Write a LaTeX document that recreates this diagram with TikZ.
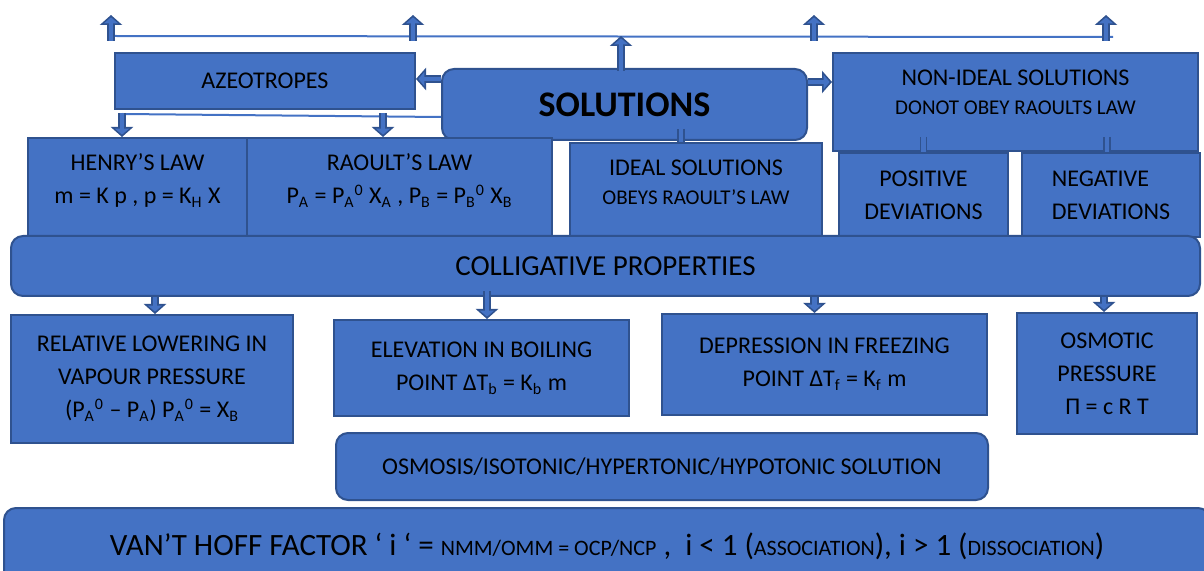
\documentclass[tikz,border=0pt]{standalone}
\usepackage{fontspec}
\setmainfont{Carlito}
\usetikzlibrary{arrows.meta,calc}
\definecolor{boxblue}{HTML}{4472C4}
\definecolor{edgeblue}{HTML}{2F528F}
\newcommand{\smallline}{\fontsize{10.5}{14}\selectfont}
\newcommand{\smallcap}{\fontsize{11}{13}\selectfont}
\begin{document}
\begin{tikzpicture}[
  x=0.5pt, y=-0.5pt,
  box/.style={rectangle, draw=edgeblue, line width=1pt, fill=boxblue, align=center, inner sep=2pt,
    font=\fontsize{12}{16.5}\selectfont},
  roundbox/.style={box, rounded corners=6pt},
  blockarrow/.style={draw=edgeblue, line width=4.2pt, -{Triangle[length=5pt,width=11pt]},
    postaction={draw=boxblue, line width=2.2pt, -{Triangle[length=3pt,width=7pt]}, shorten >=1.2pt}},
  stub/.style={draw=edgeblue, line width=0.8pt, double=boxblue, double distance=2.2pt},
  thinline/.style={draw=boxblue, line width=1pt}
]
\useasboundingbox (0,0) rectangle (1204,571);

% top row
\node[box, minimum width=150pt, minimum height=28pt] (azeo) at (265,81) {AZEOTROPES};
\node[roundbox, minimum width=182.5pt, minimum height=35.5pt,
  font=\fontsize{18}{20}\selectfont\bfseries] (sol) at (624.5,104.5) {SOLUTIONS};
\node[box, minimum width=182.5pt, minimum height=49pt, text depth=10pt] (nonideal) at (1015.5,102)
  {NON-IDEAL SOLUTIONS\\[-2pt]{\smallline DONOT OBEY RAOULTS LAW}};

% laws and deviations
\node[box, minimum width=109.5pt, minimum height=49.5pt, text depth=8.5pt] (henry) at (137.5,187.5)
  {HENRY’S LAW\\m = K p , p = K\textsubscript{H} X};
\node[box, minimum width=152.5pt, minimum height=49.5pt, text depth=8.5pt] (raoult) at (399.5,187.5)
  {RAOULT’S LAW\\P\textsubscript{A} = P\textsubscript{A}\textsuperscript{0} X\textsubscript{A} ,
   P\textsubscript{B} = P\textsubscript{B}\textsuperscript{0} X\textsubscript{B}};
\node[box, minimum width=126pt, minimum height=47pt, text depth=7.5pt] (ideal) at (696,190)
  {IDEAL SOLUTIONS\\[-2pt]{\smallline OBEYS RAOULT’S LAW}};
\node[box, minimum width=84.5pt, minimum height=42pt] (pos) at (923.5,195) {POSITIVE\\DEVIATIONS};
\node[box, minimum width=89pt, minimum height=42pt, align=left] (neg) at (1111,195) {NEGATIVE\\DEVIATIONS};

% colligative properties
\node[roundbox, minimum width=594.5pt, minimum height=30pt,
  font=\fontsize{14.5}{17}\selectfont] (coll) at (605.5,266) {COLLIGATIVE PROPERTIES};
\node[box, minimum width=141pt, minimum height=64pt] (rel) at (152,379)
  {RELATIVE LOWERING IN\\VAPOUR PRESSURE\\(P\textsubscript{A}\textsuperscript{0} – P\textsubscript{A})
   P\textsubscript{A}\textsuperscript{0} = X\textsubscript{B}};
\node[box, minimum width=147.5pt, minimum height=48pt] (elev) at (481.5,368)
  {ELEVATION IN BOILING\\POINT ΔT\textsubscript{b} = K\textsubscript{b} m};
\node[box, minimum width=162.5pt, minimum height=50.5pt] (dep) at (824.5,364.5)
  {DEPRESSION IN FREEZING\\POINT ΔT\textsubscript{f} = K\textsubscript{f} m};
\node[box, minimum width=90pt, minimum height=60.5pt] (osm) at (1107,373.5)
  {OSMOTIC\\PRESSURE\\Π = c R T};
\node[roundbox, minimum width=326pt, minimum height=33.5pt] (osmosis) at (662,466.5)
  {OSMOSIS/ISOTONIC/HYPERTONIC/HYPOTONIC SOLUTION};
\node[roundbox, minimum width=603pt, minimum height=38.5pt,
  font=\fontsize{15.5}{18}\selectfont] (vant) at (607,546.5)
  {VAN’T HOFF FACTOR ‘ i ‘ = {\smallcap NMM/OMM = OCP/NCP} ,\ \ i < 1
   ({\smallcap ASSOCIATION}), i > 1 ({\smallcap DISSOCIATION})};

% line and arrows above solutions
\coordinate (lineL) at (111,36);
\coordinate (lineR) at (1113,37);
\coordinate (up1) at (111,15);
\coordinate (up2) at (413,15);
\coordinate (up3) at (814,15);
\coordinate (up4) at (1106,15);
\draw[thinline] (lineL) -- (lineR);
\draw[blockarrow] ($(up1)+(0,26)$) -- (up1);
\draw[blockarrow] ($(up2)+(0,26)$) -- (up2);
\draw[blockarrow] ($(up3)+(0,26)$) -- (up3);
\draw[blockarrow] ($(up4)+(0,26)$) -- (up4);
\coordinate (solup) at ($(sol.north)+(-3.5,3)$);
\draw[blockarrow] (solup) -- (solup |- lineL);

% solutions to its sides
\coordinate (solL) at ($(sol.west)+(0,-25.5)$);
\coordinate (solR) at ($(sol.east)+(0,-22.5)$);
\draw[blockarrow] (solL) -- (solL -| azeo.east);
\draw[blockarrow] (solR) -- (solR -| nonideal.west);

% azeotropes feed to the laws
\coordinate (solLow) at ($(sol.west)+(0,12.5)$);
\coordinate (lowL) at (122,114);
\coordinate (lowM) at (383,115.5);
\draw[thinline] (lowL) -- (solLow);
\draw[blockarrow] ($(lowL)+(0,-1)$) -- (lowL |- henry.north);
\draw[blockarrow] ($(lowM)+(0,-2)$) -- (lowM |- raoult.north);

% stubs
\draw[stub] ($(ideal.north)+(-15,-13)$) -- ($(ideal.north)+(-15,0)$);
\draw[stub] ($(pos.north)+(0,-15)$) -- (pos.north);
\draw[stub] ($(neg.north)+(-4,-15)$) -- ($(neg.north)+(-4,0)$);

% colligative properties to its four kinds
\coordinate (arrR) at ($(rel.north)+(3,0)$);
\coordinate (arrE) at ($(elev.north)+(5.5,0)$);
\coordinate (arrD) at ($(dep.north)+(-10,0)$);
\coordinate (arrO) at ($(osm.north)+(-3,0)$);
\draw[blockarrow] (arrR |- coll.south) -- (arrR);
\draw[blockarrow] ($(arrE |- coll.south)+(0,-6)$) -- (arrE);
\draw[blockarrow] (arrD |- coll.south) -- (arrD);
\draw[blockarrow] (arrO |- coll.south) -- (arrO);
\end{tikzpicture}
\end{document}
